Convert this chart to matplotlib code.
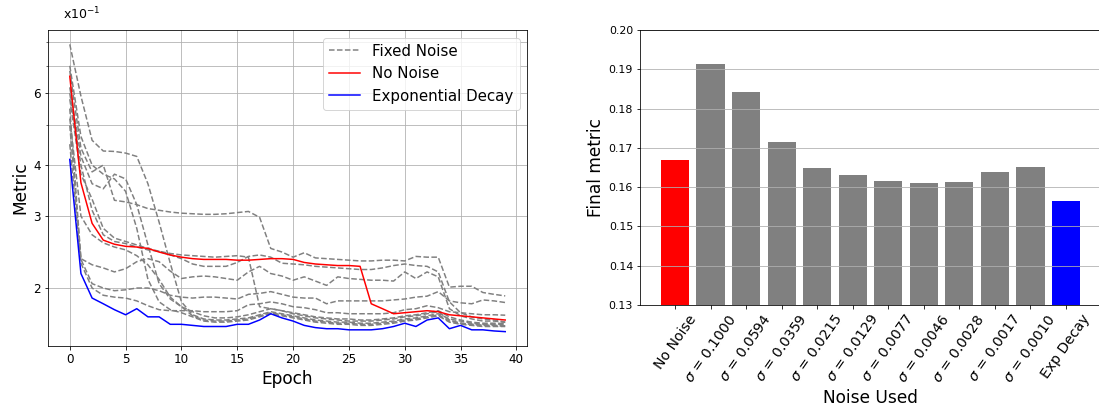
import matplotlib
matplotlib.use("Agg")
import matplotlib.pyplot as plt
from matplotlib.ticker import NullFormatter

# per-epoch metric for each run
epochs = list(range(40))

no_noise = [0.660, 0.362, 0.288, 0.262, 0.256, 0.253, 0.252, 0.250, 0.245, 0.241,
            0.238, 0.236, 0.235, 0.235, 0.235, 0.234, 0.234, 0.235, 0.236, 0.236,
            0.235, 0.231, 0.229, 0.228, 0.227, 0.227, 0.226, 0.183, 0.178, 0.173,
            0.174, 0.175, 0.176, 0.175, 0.172, 0.171, 0.170, 0.169, 0.168, 0.167]

exp_decay = [0.413, 0.217, 0.189, 0.183, 0.177, 0.172, 0.178, 0.170, 0.170, 0.163,
             0.163, 0.162, 0.161, 0.161, 0.161, 0.163, 0.163, 0.167, 0.173, 0.169,
             0.166, 0.162, 0.160, 0.159, 0.159, 0.158, 0.158, 0.158, 0.159, 0.161,
             0.164, 0.161, 0.167, 0.169, 0.159, 0.162, 0.158, 0.158, 0.157, 0.1564]

sigmas = [0.1000, 0.0594, 0.0359, 0.0215, 0.0129, 0.0077, 0.0046, 0.0028, 0.0017, 0.0010]

sigma_1000 = [0.68, 0.44, 0.385, 0.40, 0.328, 0.325, 0.320, 0.313, 0.310, 0.307,
              0.305, 0.304, 0.303, 0.303, 0.304, 0.306, 0.308, 0.298, 0.250, 0.245,
              0.238, 0.244, 0.237, 0.236, 0.235, 0.234, 0.233, 0.233, 0.234, 0.234,
              0.233, 0.239, 0.238, 0.238, 0.201, 0.202, 0.202, 0.195, 0.193, 0.1913]
sigma_0594 = [0.50, 0.235, 0.205, 0.200, 0.197, 0.198, 0.200, 0.200, 0.197, 0.192,
              0.190, 0.189, 0.190, 0.190, 0.189, 0.188, 0.193, 0.194, 0.196, 0.193,
              0.190, 0.189, 0.189, 0.183, 0.186, 0.186, 0.186, 0.186, 0.186, 0.187,
              0.188, 0.190, 0.191, 0.196, 0.186, 0.184, 0.183, 0.187, 0.186, 0.1843]
sigma_0359 = [0.45, 0.230, 0.200, 0.192, 0.190, 0.189, 0.186, 0.181, 0.177, 0.176,
              0.176, 0.176, 0.175, 0.175, 0.175, 0.176, 0.182, 0.183, 0.185, 0.183,
              0.180, 0.179, 0.177, 0.174, 0.174, 0.173, 0.173, 0.173, 0.173, 0.174,
              0.177, 0.178, 0.181, 0.179, 0.175, 0.174, 0.173, 0.172, 0.172, 0.1716]
sigma_0215 = [0.55, 0.236, 0.228, 0.224, 0.219, 0.223, 0.232, 0.236, 0.232, 0.220,
              0.211, 0.213, 0.214, 0.213, 0.211, 0.209, 0.219, 0.226, 0.217, 0.214,
              0.209, 0.213, 0.208, 0.203, 0.213, 0.211, 0.210, 0.209, 0.209, 0.208,
              0.219, 0.211, 0.219, 0.213, 0.178, 0.171, 0.168, 0.166, 0.166, 0.1648]
sigma_0129 = [0.79, 0.59, 0.46, 0.433, 0.432, 0.428, 0.420, 0.360, 0.290, 0.230,
              0.185, 0.172, 0.168, 0.167, 0.167, 0.168, 0.169, 0.172, 0.175, 0.173,
              0.171, 0.169, 0.167, 0.166, 0.165, 0.165, 0.164, 0.164, 0.165, 0.166,
              0.168, 0.169, 0.171, 0.173, 0.168, 0.166, 0.164, 0.163, 0.163, 0.1631]
sigma_0077 = [0.62, 0.42, 0.36, 0.35, 0.38, 0.37, 0.32, 0.255, 0.205, 0.188,
              0.180, 0.171, 0.167, 0.166, 0.166, 0.167, 0.168, 0.171, 0.174, 0.172,
              0.170, 0.168, 0.166, 0.165, 0.164, 0.164, 0.163, 0.163, 0.164, 0.165,
              0.167, 0.168, 0.170, 0.172, 0.166, 0.164, 0.163, 0.162, 0.162, 0.1616]
sigma_0046 = [0.70, 0.47, 0.40, 0.38, 0.37, 0.345, 0.28, 0.21, 0.185, 0.177,
              0.174, 0.170, 0.166, 0.165, 0.165, 0.166, 0.167, 0.170, 0.173, 0.171,
              0.169, 0.167, 0.165, 0.164, 0.163, 0.163, 0.162, 0.162, 0.163, 0.164,
              0.166, 0.167, 0.169, 0.171, 0.165, 0.163, 0.162, 0.161, 0.161, 0.1610]
sigma_0028 = [0.52, 0.30, 0.27, 0.258, 0.252, 0.248, 0.240, 0.228, 0.210, 0.190,
              0.180, 0.175, 0.171, 0.169, 0.169, 0.170, 0.172, 0.175, 0.178, 0.176,
              0.173, 0.171, 0.169, 0.168, 0.167, 0.166, 0.166, 0.166, 0.167, 0.168,
              0.170, 0.171, 0.173, 0.175, 0.167, 0.164, 0.163, 0.162, 0.162, 0.1612]
sigma_0017 = [0.60, 0.40, 0.31, 0.27, 0.26, 0.257, 0.252, 0.248, 0.246, 0.243,
              0.241, 0.240, 0.239, 0.238, 0.239, 0.240, 0.238, 0.180, 0.178, 0.176,
              0.174, 0.172, 0.170, 0.169, 0.168, 0.168, 0.167, 0.167, 0.168, 0.169,
              0.171, 0.172, 0.174, 0.176, 0.170, 0.167, 0.165, 0.164, 0.164, 0.1638]
sigma_0010 = [0.58, 0.38, 0.33, 0.28, 0.265, 0.260, 0.255, 0.250, 0.246, 0.241,
              0.236, 0.229, 0.226, 0.226, 0.226, 0.231, 0.239, 0.241, 0.238, 0.230,
              0.229, 0.228, 0.226, 0.225, 0.224, 0.223, 0.222, 0.222, 0.224, 0.227,
              0.229, 0.227, 0.226, 0.219, 0.185, 0.174, 0.170, 0.168, 0.167, 0.1651]

fixed_runs = [sigma_1000, sigma_0594, sigma_0359, sigma_0215, sigma_0129,
              sigma_0077, sigma_0046, sigma_0028, sigma_0017, sigma_0010]

bar_labels = ["No Noise"] + [r"$\sigma$ = %.4f" % s for s in sigmas] + ["Exp Decay"]
bar_values = [no_noise[-1]] + [run[-1] for run in fixed_runs] + [exp_decay[-1]]
bar_colors = ["red"] + ["gray"] * len(sigmas) + ["blue"]

W, H = 1099, 410
fig = plt.figure(figsize=(W / 72, H / 72), dpi=72)

# training curves
ax1 = fig.add_axes([48 / W, 64 / H, 479 / W, 316 / H])
for i, run in enumerate(fixed_runs):
    ax1.plot(epochs, run, "--", color="gray", label="Fixed Noise" if i == 0 else None)
ax1.plot(epochs, no_noise, color="red", label="No Noise")
ax1.plot(epochs, exp_decay, color="blue", label="Exponential Decay")
ax1.set_yscale("log")
ax1.set_yticks([0.2, 0.3, 0.4, 0.6])
ax1.set_yticklabels(["2", "3", "4", "6"])
ax1.set_yticks([0.5, 0.7, 0.8], minor=True)
ax1.yaxis.set_minor_formatter(NullFormatter())
ax1.grid(True, which="both")
ax1.tick_params(labelsize=12)
ax1.text(0.031, 1.035, r"x10$^{-1}$", transform=ax1.transAxes, fontsize=12.5)
ax1.set_xlabel("Epoch", fontsize=17)
ax1.set_ylabel("Metric", fontsize=17)
ax1.legend(loc="upper right", fontsize=15, handlelength=2.1)

# final metric per noise setting
ax2 = fig.add_axes([640 / W, 105 / H, 461 / W, 275 / H])
ax2.bar(range(len(bar_values)), bar_values, color=bar_colors)
ax2.set_ylim(0.13, 0.20)
ax2.set_xticks(range(len(bar_labels)))
ax2.set_xticklabels(bar_labels, rotation=55, fontsize=14)
ax2.tick_params(axis="y", labelsize=11)
ax2.grid(True, axis="y")
ax2.set_xlabel("Noise Used", fontsize=17)
ax2.set_ylabel("Final metric", fontsize=17)

fig.savefig("out.png", dpi=72)
